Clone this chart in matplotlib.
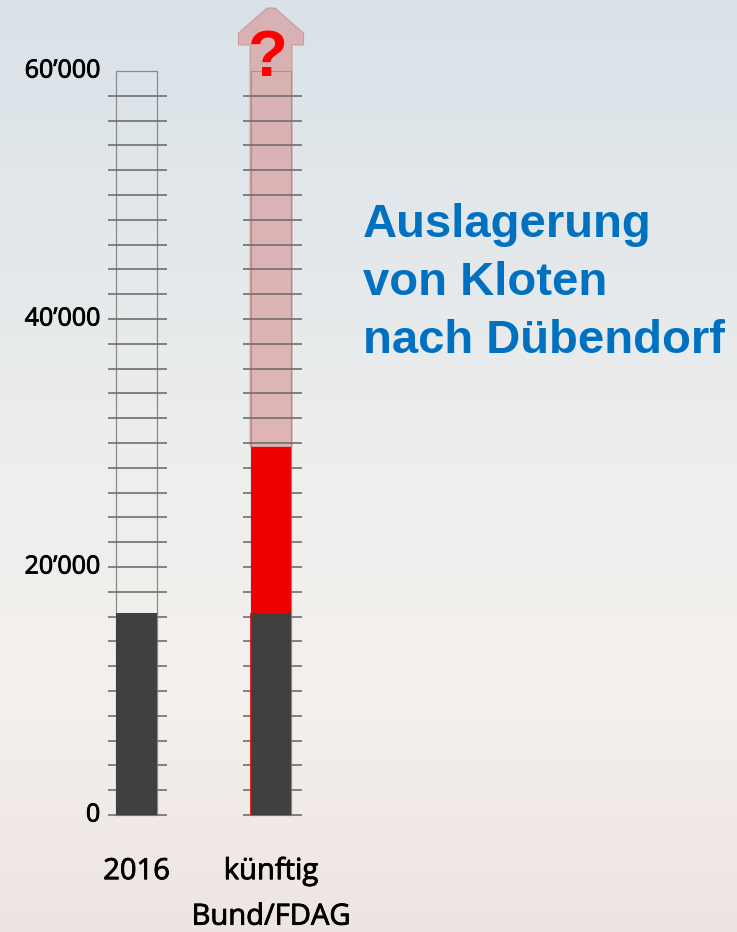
import numpy as np
import matplotlib
matplotlib.use('Agg')
import matplotlib.pyplot as plt
import matplotlib.patheffects as pe
from matplotlib.patches import Rectangle, Polygon
from matplotlib.colors import LinearSegmentedColormap

# data
categories = ['2016', 'künftig\nBund/FDAG']
base_values = [16300, 16300]       # heutige Bewegungen (dunkel)
added_values = [0, 13400]          # zusätzlich durch Auslagerung (rot)
scale_max = 60000
tick_step = 2000
tick_labels = [0, 20000, 40000, 60000]
title_lines = ['Auslagerung', 'von Kloten', 'nach Dübendorf']


def fmt(v):
    return '{:,}'.format(v).replace(',', '\u2019')


fig = plt.figure(figsize=(7.37, 9.32), dpi=100)
ax = fig.add_axes([0, 0, 1, 1])
ax.set_xlim(-1.015, 4.465)
ax.set_ylim(-9435, 65726)
ax.axis('off')

# background gradient, top to bottom
bg = LinearSegmentedColormap.from_list('bg', ['#d9e2e8', '#e3e8eb', '#eeeeed', '#f4f0ec', '#eee5e2'])
grad = np.linspace(0, 1, 256).reshape(-1, 1)
ax.imshow(grad, cmap=bg, aspect='auto', extent=[-1.015, 4.465, -9435, 65726], zorder=0)

x = np.arange(len(categories))
bar_w = 0.3
tick_w = 0.44

# outline boxes
for xi in x:
    ax.add_patch(Rectangle((xi - bar_w / 2, 0), bar_w, scale_max, fill=False,
                           edgecolor='#8a8a8a', lw=0.9, zorder=1))

# pink arrow for the open-ended growth
ax_x = x[1]
body_hw = 0.156
head_hw = 0.242
start = base_values[1] + added_values[1]
head_base = 62100
shoulder = 63050
tip = 65080
arrow_pts = [(ax_x - body_hw, start), (ax_x - body_hw, head_base), (ax_x - head_hw, head_base),
             (ax_x - head_hw, shoulder), (ax_x - 0.03, tip), (ax_x + 0.03, tip),
             (ax_x + head_hw, shoulder), (ax_x + head_hw, head_base), (ax_x + body_hw, head_base),
             (ax_x + body_hw, start)]
ax.add_patch(Polygon(arrow_pts, closed=True, facecolor='#d79190', alpha=0.6,
                     edgecolor='#c07f80', lw=0.8, zorder=2))

# scale ticks
for xi in x:
    ax.hlines(np.arange(0, scale_max, tick_step), xi - tick_w / 2 + 0.01, xi + tick_w / 2 + 0.01,
              color='#6f6f6f', lw=1.2, zorder=3)

# bars
ax.bar(x, base_values, width=bar_w, color='#404040', zorder=4)
ax.bar(x, added_values, width=bar_w, bottom=base_values, color='#ee0000', zorder=4)
ax.vlines(x[1] - bar_w / 2, 0, base_values[1], color='#ee0000', lw=1.2, zorder=5)

thick = [pe.withStroke(linewidth=0.6, foreground='#000000')]

# value labels
for v in tick_labels:
    ax.text(-0.27, v, fmt(v), ha='right', va='center', fontsize=18,
            family='Open Sans', color='#000000', path_effects=thick, zorder=6)

# category labels
for xi, c in zip(x, categories):
    ax.text(xi, -3400, c, ha='center', va='top', fontsize=21,
            family='Open Sans', color='#000000', linespacing=1.75,
            path_effects=thick, zorder=6)

ax.text(x[1] - 0.02, 61000, '?', ha='center', va='center', fontsize=47,
        fontweight='bold', family='Liberation Sans', color='#ff0000', zorder=6)

for i, line in enumerate(title_lines):
    fig.text(363 / 737, 1 - (237 + 58 * i) / 932, line, ha='left', va='baseline',
             fontsize=34, fontweight='bold', family='Liberation Sans', color='#0070c0')

fig.savefig('out.png', dpi=100)
